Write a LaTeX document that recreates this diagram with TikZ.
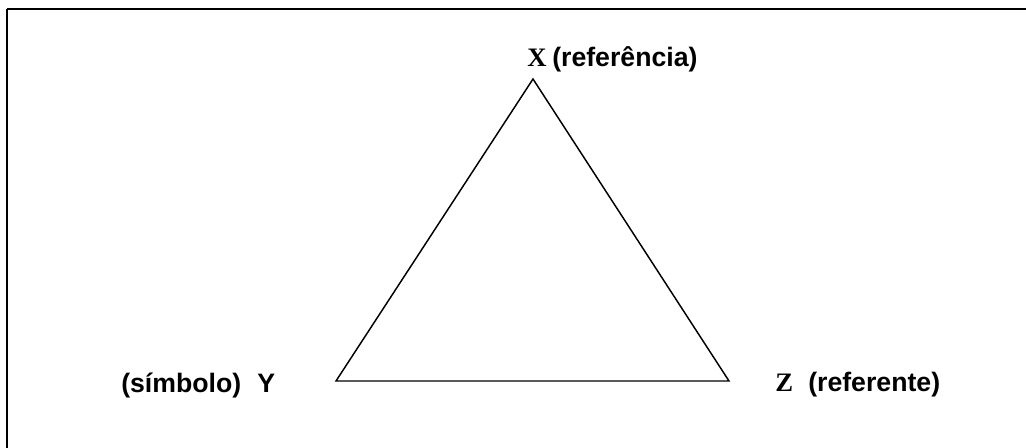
\documentclass[tikz,border=0pt]{standalone}
\usepackage{fontspec}
\setmainfont{Liberation Sans}
\newfontfamily\serifb{Liberation Serif}
\begin{document}
\begin{tikzpicture}[x=0.75pt,y=-0.75pt,
  lbl/.style={inner sep=0pt,anchor=base west,font=\fontsize{20}{22}\selectfont\bfseries},
  letter/.style={inner sep=0pt,anchor=base west,font=\fontsize{20}{22}\selectfont\serifb\bfseries},
  edge/.style={line width=1.1pt,line join=miter}]
\useasboundingbox (0,0) rectangle (1026,448);
\draw[line width=1.8pt] (7,9) -- (1040,9) (7,9) -- (7,460);
\coordinate (X) at (533,79);
\coordinate (Y) at (336,381);
\coordinate (Z) at (729,381);
\draw[edge] (X) -- (Y) -- (Z) -- cycle;
\node[letter] (xl) at (527,67) {X};
\node[lbl] (xt) at (552,67) {(referência)};
\node[lbl] (yt) at (121,393) {(símbolo)};
\node[lbl] (yl) at (257,393) {Y};
\node[letter] (zl) at (775,392) {Z};
\node[lbl] (zt) at (808,392) {(referente)};
\end{tikzpicture}
\end{document}
